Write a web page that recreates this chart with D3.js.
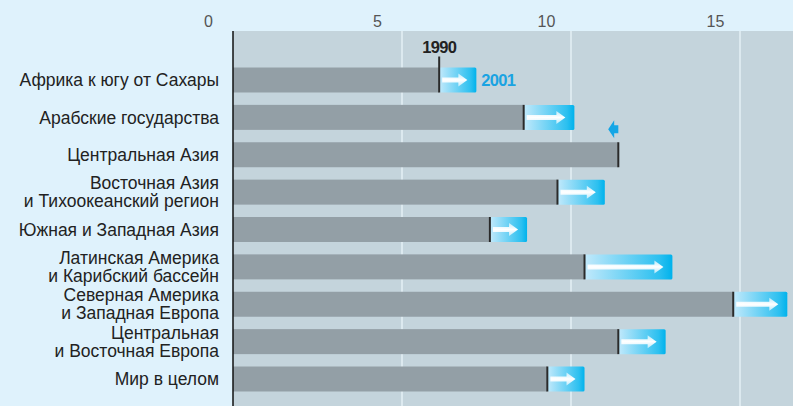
<!DOCTYPE html>
<html>
<head>
<meta charset="utf-8">
<script src="https://cdn.jsdelivr.net/npm/d3@7"></script>
<style>
  body { margin: 0; background: #dff2fc; }
  svg { display: block; }
  text { font-family: 'Liberation Sans Narrow', 'Arial Narrow', 'Liberation Sans', sans-serif; }
</style>
</head>
<body>
<svg id="chart" width="793" height="406"></svg>
<script>
'use strict';

// regions, each one a list of label lines
const regions = [
  ['Африка к югу от Сахары'],
  ['Арабские государства'],
  ['Центральная Азия'],
  ['Восточная Азия', 'и Тихоокеанский регион'],
  ['Южная и Западная Азия'],
  ['Латинская Америка', 'и Карибский бассейн'],
  ['Северная Америка', 'и Западная Европа'],
  ['Центральная', 'и Восточная Европа'],
  ['Мир в целом']
];
const values1990 = [6.1, 8.6, 11.4, 9.6, 7.6, 10.4, 14.8, 11.4, 9.3];
const values2001 = [7.2, 10.1, 11.1, 11.0, 8.7, 13.0, 16.4, 12.8, 10.4];
const tickValues = [0, 5, 10, 15];
const yearLabels = ['1990', '2001'];

const width = 793;
const height = 406;
const plotTop = 31;
const barH = 25;
const tickShift = -25;

const svg = d3.select('#chart');

const x = d3.scaleLinear().domain([0, 10]).range([233, 571]);
const y = d3.scalePoint().domain(d3.range(regions.length)).range([80, 379]);

// gradients
const defs = svg.append('defs');
const grad = defs.append('linearGradient').attr('id', 'boxGrad');
grad.append('stop').attr('offset', '0%').attr('stop-color', '#c2e9fb');
grad.append('stop').attr('offset', '85%').attr('stop-color', '#2cc0f0');
grad.append('stop').attr('offset', '100%').attr('stop-color', '#00b2ec');
const shaftGrad = defs.append('linearGradient').attr('id', 'shaftGrad')
  .attr('x1', 0).attr('x2', 0).attr('y1', 0).attr('y2', 1);
shaftGrad.append('stop').attr('offset', '0%').attr('stop-color', '#ffffff').attr('stop-opacity', 0.6);
shaftGrad.append('stop').attr('offset', '50%').attr('stop-color', '#ffffff').attr('stop-opacity', 1);
shaftGrad.append('stop').attr('offset', '100%').attr('stop-color', '#ffffff').attr('stop-opacity', 0.6);

// plot background
svg.append('rect')
  .attr('x', x(0)).attr('y', plotTop)
  .attr('width', width - x(0)).attr('height', height - plotTop)
  .attr('fill', '#c4d4dc');

// gridlines
svg.append('g')
  .selectAll('line')
  .data(tickValues.filter(d => d > 0))
  .join('line')
  .attr('x1', d => x(d)).attr('x2', d => x(d))
  .attr('y1', plotTop).attr('y2', height)
  .attr('stroke', '#e4f0f6').attr('stroke-width', 1.5);

// top axis labels
const axis = d3.axisTop(x).tickValues(tickValues).tickSize(0).tickPadding(0);
svg.append('g')
  .attr('transform', `translate(${tickShift},27)`)
  .call(axis)
  .call(g => g.select('.domain').remove())
  .call(g => g.selectAll('text')
    .attr('font-size', 16)
    .attr('fill', '#555')
    .style('font-family', null));

// region labels
const labels = svg.append('g');
regions.forEach((lines, i) => {
  const t = labels.append('text')
    .attr('x', 219)
    .attr('y', y(i))
    .attr('text-anchor', 'end')
    .attr('font-size', 17.5)
    .attr('fill', '#222');
  const lh = 18;
  const off = -(lines.length - 1) * lh / 2;
  lines.forEach((line, j) => {
    t.append('tspan')
      .attr('x', 219)
      .attr('y', y(i) + off + j * lh)
      .attr('dy', '0.35em')
      .text(line);
  });
});

// gray bars (1990)
svg.append('g')
  .selectAll('rect')
  .data(values1990)
  .join('rect')
  .attr('x', x(0))
  .attr('y', (d, i) => y(i) - barH / 2)
  .attr('width', d => x(d) - x(0))
  .attr('height', barH)
  .attr('fill', '#939fa6');

// increase boxes with arrows (2001)
const ups = d3.range(regions.length).filter(i => values2001[i] > values1990[i]);
const box = svg.append('g')
  .selectAll('g')
  .data(ups)
  .join('g')
  .attr('transform', i => `translate(${x(values1990[i])},${y(i) - barH / 2})`);

box.append('rect')
  .attr('width', i => x(values2001[i]) - x(values1990[i]))
  .attr('height', barH)
  .attr('rx', 1.5)
  .attr('fill', 'url(#boxGrad)');

box.append('path')
  .attr('d', i => {
    const w = x(values2001[i]) - x(values1990[i]);
    const c = barH / 2;
    const hx = w - 9;
    return `M3,${c - 2.5}L${hx - 9},${c - 2.5}L${hx - 9},${c - 6.5}L${hx},${c}` +
      `L${hx - 9},${c + 6.5}L${hx - 9},${c + 2.5}L3,${c + 2.5}Z`;
  })
  .attr('fill', 'url(#shaftGrad)');

// decrease arrow (small, above the bar)
const downs = d3.range(regions.length).filter(i => values2001[i] < values1990[i]);
svg.append('g')
  .selectAll('path')
  .data(downs)
  .join('path')
  .attr('transform', i => `translate(${x(values2001[i])},${y(i) - barH / 2 - 13})`)
  .attr('d', i => {
    const w = x(values1990[i]) - x(values2001[i]);
    return `M0,0L6,-9L6,-4L${w},-4L${w},4L6,4L6,9Z`;
  })
  .attr('fill', '#14a6e6');

// end-of-1990 markers
svg.append('g')
  .selectAll('line')
  .data(values1990)
  .join('line')
  .attr('x1', d => x(d)).attr('x2', d => x(d))
  .attr('y1', (d, i) => y(i) - barH / 2 - (i === 0 ? 11 : 0))
  .attr('y2', (d, i) => y(i) + barH / 2)
  .attr('stroke', '#2a2a2a').attr('stroke-width', 2);

// vertical axis line
svg.append('line')
  .attr('x1', x(0)).attr('x2', x(0))
  .attr('y1', plotTop).attr('y2', height)
  .attr('stroke', '#111').attr('stroke-width', 1.5);

// year annotations on the first row
svg.append('text')
  .attr('x', x(values1990[0]))
  .attr('y', y(0) - barH / 2 - 15)
  .attr('text-anchor', 'middle')
  .attr('font-size', 16.5)
  .attr('font-weight', 'bold')
  .attr('letter-spacing', -0.7)
  .attr('fill', '#222')
  .text(yearLabels[0]);

svg.append('text')
  .attr('x', x(values2001[0]) + 5)
  .attr('y', y(0))
  .attr('dy', '0.35em')
  .attr('font-size', 16.5)
  .attr('font-weight', 'bold')
  .attr('letter-spacing', -0.7)
  .attr('fill', '#1aa3e2')
  .text(yearLabels[1]);
</script>
</body>
</html>
